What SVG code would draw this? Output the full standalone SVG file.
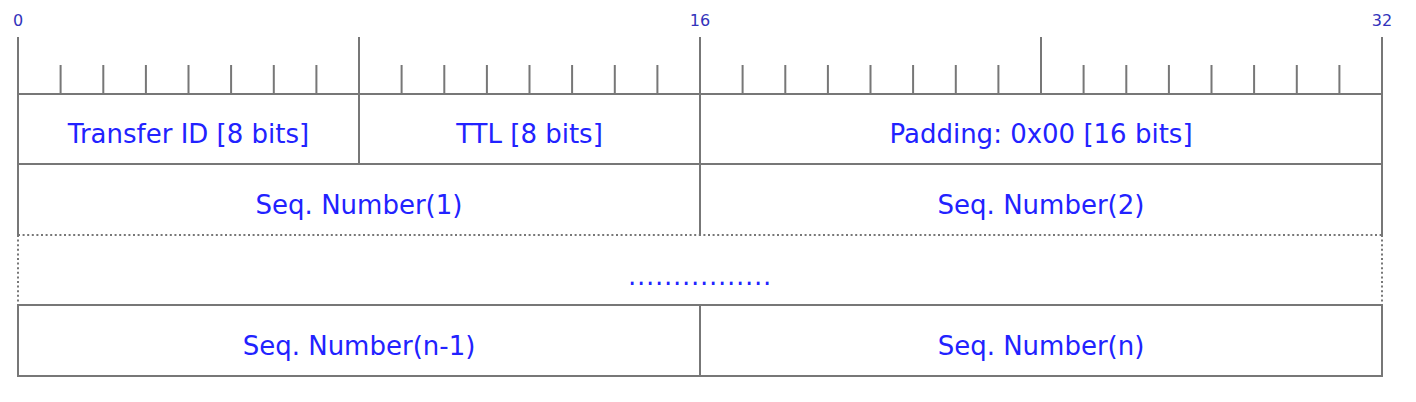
<svg xmlns="http://www.w3.org/2000/svg" width="1416" height="402" viewBox="0 0 1416 402">
<style>
.ln{stroke:#777;stroke-width:2;fill:none;stroke-linecap:square}
.dot{stroke:#777;stroke-width:2;fill:none;stroke-dasharray:2 2.6}
.lbl{font-family:"DejaVu Sans",sans-serif;font-size:26px;fill:#2222ff;text-anchor:middle}
.tk{font-family:"DejaVu Sans",sans-serif;font-size:16px;fill:#3333bb;text-anchor:middle}
</style>
<rect width="1416" height="402" fill="#fff"/>
<g id="ruler">
<text class="tk" x="18" y="26">0</text>
<text class="tk" x="700" y="26">16</text>
<text class="tk" x="1382" y="26">32</text>
<path class="ln" d="M18,38V94 M359,38V94 M700,38V94 M1041,38V94 M1382,38V94"/>
<path class="ln" d="M60.6,66V94 M103.3,66V94 M145.9,66V94 M188.5,66V94 M231.1,66V94 M273.8,66V94 M316.4,66V94 M401.6,66V94 M444.3,66V94 M486.9,66V94 M529.5,66V94 M572.1,66V94 M614.8,66V94 M657.4,66V94 M742.6,66V94 M785.3,66V94 M827.9,66V94 M870.5,66V94 M913.1,66V94 M955.8,66V94 M998.4,66V94 M1083.6,66V94 M1126.3,66V94 M1168.9,66V94 M1211.5,66V94 M1254.1,66V94 M1296.8,66V94 M1339.4,66V94"/>
</g>
<g id="row1">
<path class="ln" d="M18,94H1382 M18,94V164 M359,94V164 M700,94V164 M1382,94V164 M18,164H1382"/>
<text class="lbl" x="188.5" y="143">Transfer ID [8 bits]</text>
<text class="lbl" x="529.5" y="143">TTL [8 bits]</text>
<text class="lbl" x="1041" y="143">Padding: 0x00 [16 bits]</text>
</g>
<g id="row2">
<path class="ln" d="M18,164V235 M700,164V235 M1382,164V235"/>
<text class="lbl" x="359" y="214">Seq. Number(1)</text>
<text class="lbl" x="1041" y="214">Seq. Number(2)</text>
</g>
<g id="row3">
<path class="dot" d="M18,235H1382 M18,235V305 M1382,235V305"/>
<text class="lbl" x="700" y="285" letter-spacing="0.73">................</text>
</g>
<g id="row4">
<path class="ln" d="M18,305H1382 M18,305V376 M700,305V376 M1382,305V376 M18,376H1382"/>
<text class="lbl" x="359" y="355">Seq. Number(n-1)</text>
<text class="lbl" x="1041" y="355">Seq. Number(n)</text>
</g>
</svg>
